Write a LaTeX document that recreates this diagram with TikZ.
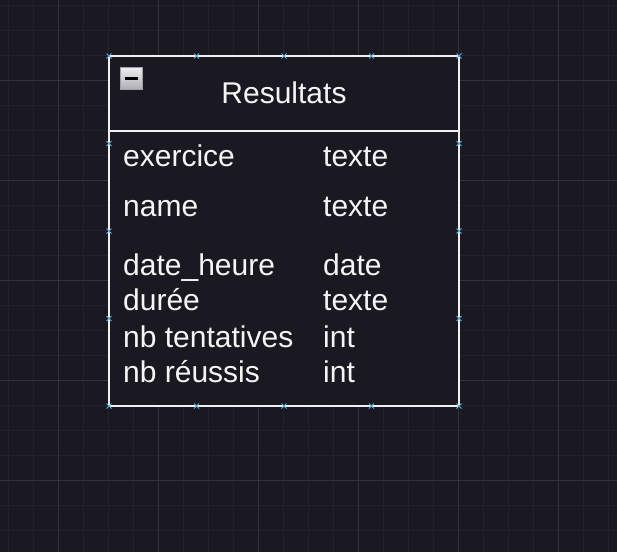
\documentclass[tikz,border=0pt]{standalone}
\usepackage{fontspec}
\setmainfont{Liberation Sans}
\begin{document}
\begin{tikzpicture}[x=1pt,y=-1pt,
  minorgrid/.style={draw=gridminor,line width=1pt},
  majorgrid/.style={draw=gridmajor,line width=1pt},
  tablebox/.style={draw=boxline,line width=2pt,rectangle,inner sep=0pt,minimum width=350pt,minimum height=350pt},
  txt/.style={text=txtcol,font=\fontsize{30}{36}\selectfont,inner sep=0pt,anchor=base west},
  ttl/.style={text=txtcol,font=\fontsize{30}{36}\selectfont,inner sep=0pt,anchor=base},
  marker/.style={draw=markcol,line width=1pt}
]
\definecolor{bg}{RGB}{26,24,32}
\definecolor{gridminor}{RGB}{35,33,41}
\definecolor{gridmajor}{RGB}{52,50,59}
\definecolor{boxline}{RGB}{240,240,242}
\definecolor{txtcol}{RGB}{245,245,245}
\definecolor{markcol}{RGB}{90,170,220}
\useasboundingbox (0,0) rectangle (617,552);
\fill[bg] (0,0) rectangle (617,552);
% minor grid
\foreach \x in {8.5,33.5,...,610}{\draw[minorgrid] (\x,0) -- (\x,552);}
\foreach \y in {5,30,...,552}{\draw[minorgrid] (0,\y) -- (617,\y);}
% major grid
\foreach \x in {58.5,158.5,...,610}{\draw[majorgrid] (\x,0) -- (\x,552);}
\foreach \y in {80,180,...,552}{\draw[majorgrid] (0,\y) -- (617,\y);}
% table box
\node[tablebox,fill=bg] (box) at (284,231) {};
\coordinate (hl) at (109,130.5);
\coordinate (hr) at (459,130.5);
\draw[draw=boxline,line width=2pt] (hl) -- (hr);
% collapse icon
\node[rectangle,draw={rgb,255:red,160;green,160;blue,168},line width=1pt,top color={rgb,255:red,238;green,238;blue,240},bottom color={rgb,255:red,172;green,172;blue,178},minimum width=22pt,minimum height=22pt,inner sep=0pt] (icon) at (131.5,78.5) {};
\draw[black,line width=2.5pt] ([xshift=-6.5pt]icon.center) -- ([xshift=6.5pt]icon.center);
% title
\node[ttl] (title) at (284,103) {Resultats};
% rows
\node[txt] (n1) at (123,166.3) {exercice};
\node[txt] (t1) at (323,166.3) {texte};
\node[txt] (n2) at (123,216.3) {name};
\node[txt] (t2) at (323,216.3) {texte};
\node[txt] (n3) at (123,275.6) {date\_heure};
\node[txt] (t3) at (323,275.6) {date};
\node[txt] (n4) at (123,310.6) {durée};
\node[txt] (t4) at (323,310.6) {texte};
\node[txt] (n5) at (123,347.3) {nb tentatives};
\node[txt] (t5) at (323,347.3) {int};
\node[txt] (n6) at (123,382.3) {nb réussis};
\node[txt] (t6) at (323,382.3) {int};
% connection markers
\foreach \p in {196.5,284,371.5}{
  \draw[marker] (\p-2.5,53.5) -- (\p+2.5,58.5) (\p-2.5,58.5) -- (\p+2.5,53.5);
  \draw[marker] (\p-2.5,403.5) -- (\p+2.5,408.5) (\p-2.5,408.5) -- (\p+2.5,403.5);
}
\foreach \q in {56,143.5,231,318.5,406}{
  \draw[marker] (106.5,\q-2.5) -- (111.5,\q+2.5) (106.5,\q+2.5) -- (111.5,\q-2.5);
  \draw[marker] (456.5,\q-2.5) -- (461.5,\q+2.5) (456.5,\q+2.5) -- (461.5,\q-2.5);
}
\end{tikzpicture}
\end{document}
